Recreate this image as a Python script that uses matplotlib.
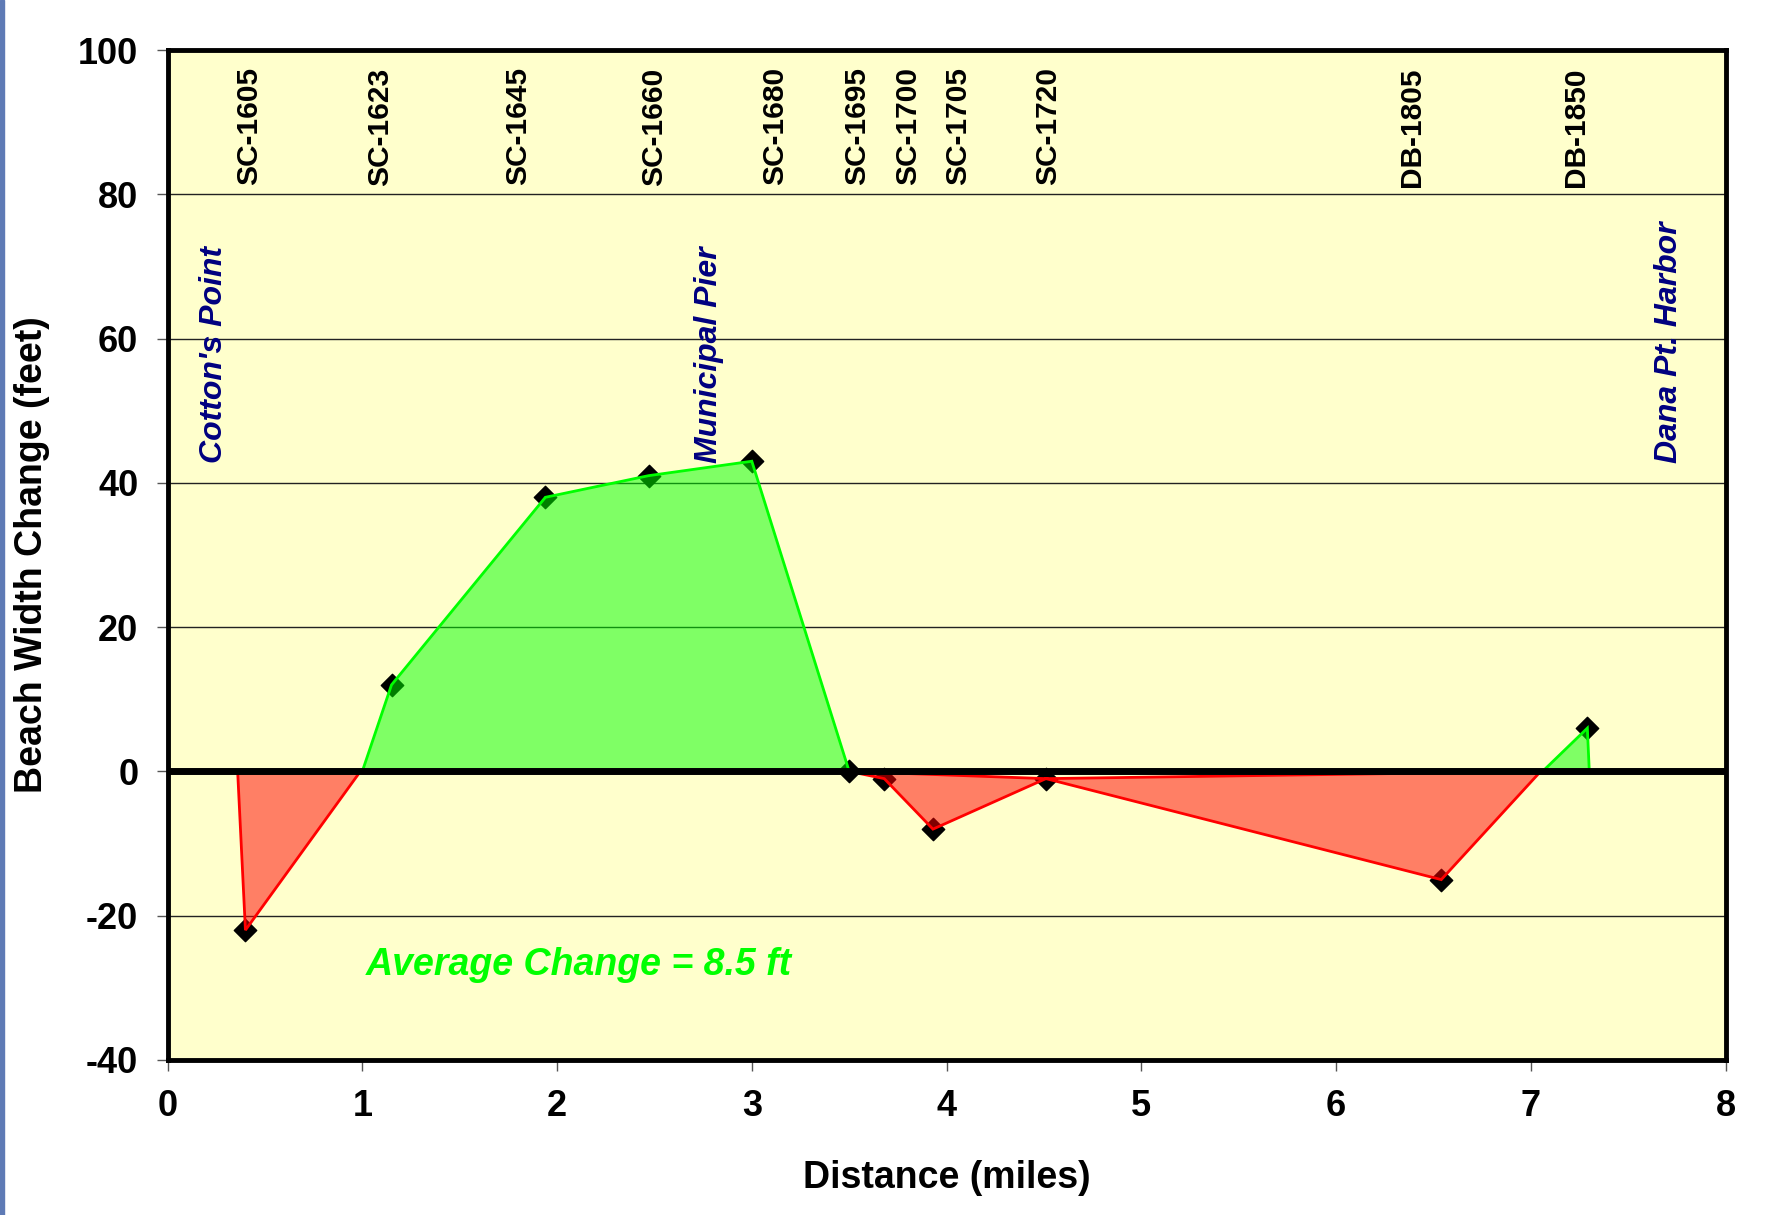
import numpy as np
import matplotlib.pyplot as plt
from matplotlib.patches import Rectangle

plt.rcParams['font.family'] = ['Liberation Sans', 'DejaVu Sans']
plt.rcParams['axes.unicode_minus'] = False

# Surveyed profile points: distance (miles) and beach width change (ft)
dist = [0.40, 1.15, 1.94, 2.47, 3.00, 3.50, 3.68, 3.93, 4.51, 6.54, 7.29]
change = [-22.0, 12.0, 38.0, 41.0, 43.0, 0.0, -1.0, -8.0, -1.0, -15.0, 6.0]

# Shaded gain / loss areas
gain_x = [[1.00, 1.15, 1.94, 2.47, 3.00, 3.50], [7.06, 7.29, 7.30]]
gain_y = [[0.0, 12.0, 38.0, 41.0, 43.0, 0.0], [0.0, 6.0, 0.0]]
loss_x = [[0.36, 0.40, 0.99],
          [3.50, 3.68, 3.93, 4.51, 6.54, 7.05, 4.51]]
loss_y = [[0.0, -22.0, 0.0],
          [0.0, -1.0, -8.0, -1.0, -15.0, 0.0, -1.0]]

# Profile station names and where they are printed along the top
stations = ['SC-1605', 'SC-1623', 'SC-1645', 'SC-1660', 'SC-1680', 'SC-1695',
            'SC-1700', 'SC-1705', 'SC-1720', 'DB-1805', 'DB-1850']
station_x = [0.42, 1.09, 1.80, 2.50, 3.12, 3.54, 3.80, 4.06, 4.52, 6.39, 7.23]

places = ["Cotton's Point", 'Municipal Pier', 'Dana Pt. Harbor']
place_x = [0.24, 2.78, 7.71]

avg_text = 'Average Change = 8.5 ft'

fig = plt.figure(figsize=(17.86, 12.15), dpi=100)
ax = fig.add_axes([0.0938, 0.1276, 0.8724, 0.8312])
ax.set_facecolor('#FFFFCC')

# blue strip at the left edge of the slide
fig.patches.append(Rectangle((0, 0), 0.0025, 1, transform=fig.transFigure,
                             color='#5E7AB5', zorder=0))

ax.set_xlim(0, 8)
ax.set_ylim(-40, 100)
ax.set_xticks(np.arange(0, 9, 1))
ax.set_yticks(np.arange(-40, 101, 20))
ax.yaxis.grid(True, color='#222222', linewidth=1.0)
ax.set_axisbelow(True)

for s in ax.spines.values():
    s.set_linewidth(3.5)
    s.set_color('black')

ax.tick_params(axis='both', direction='out', length=8, width=1, color='#555555',
               labelsize=26, pad=13)
for lab in ax.get_xticklabels() + ax.get_yticklabels():
    lab.set_fontweight('bold')

ax.set_xlabel('Distance (miles)', fontsize=27, fontweight='bold', labelpad=26)
ax.set_ylabel('Beach Width Change (feet)', fontsize=27, fontweight='bold', labelpad=20)

# markers first so the translucent fills sit on top of them
ax.scatter(dist, change, marker='D', s=130, color='black', zorder=2)

for xs, ys in zip(gain_x, gain_y):
    ax.fill(xs, ys, facecolor=(0, 1, 0, 0.5), edgecolor='#00FF00', linewidth=2, zorder=3)
for xs, ys in zip(loss_x, loss_y):
    ax.fill(xs, ys, facecolor=(1, 0, 0, 0.5), edgecolor='#FF0000', linewidth=2, zorder=3)

ax.axhline(0, color='black', linewidth=5, zorder=4)

for name, x in zip(stations, station_x):
    ax.text(x, 97.6, name, rotation=90, ha='center', va='top',
            fontsize=21.5, fontweight='bold', color='black')

for name, x in zip(places, place_x):
    ax.text(x, 42.8, name, rotation=90, ha='center', va='bottom',
            fontsize=23, fontweight='bold', style='italic', color='#000080')

ax.text(1.02, -26.8, avg_text, ha='left', va='center', fontsize=27,
        fontweight='bold', style='italic', color='#00FF00')

fig.savefig('out.png', dpi=100)
